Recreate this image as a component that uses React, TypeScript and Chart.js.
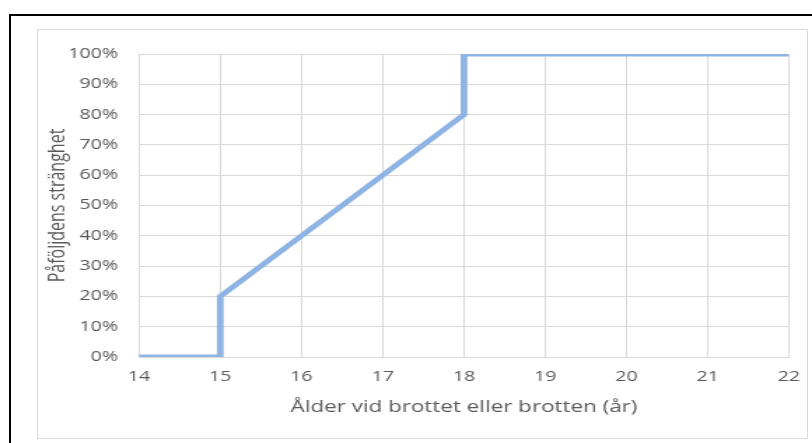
import React, { useEffect, useRef } from "react";
import { Chart, registerables } from "chart.js";

Chart.register(...registerables);

const ages = [14, 15, 15, 18, 18, 22];
const severity = [0, 0, 20, 80, 100, 100];
const xMin = 14;
const xMax = 22;
const yMin = 0;
const yMax = 100;
const xTitle = "Ålder vid brottet eller brotten (år)";
const yTitle = "Påföljdens stränghet";

const STRETCH = 1.4;
const W = 812;
const H = 443;
const CW = Math.round(W / STRETCH);

export default function App() {
  const ref = useRef<HTMLCanvasElement | null>(null);

  useEffect(() => {
    if (!ref.current) return;
    const textColor = "#595959";
    const gridColor = "#d9d9d9";
    const chart = new Chart(ref.current, {
      type: "line",
      data: {
        datasets: [
          {
            data: ages.map((a, i) => ({ x: a, y: severity[i] })),
            borderColor: "#8eb4e3",
            backgroundColor: "#8eb4e3",
            borderWidth: 4.8,
            pointRadius: 0,
            tension: 0,
            fill: false,
          },
        ],
      },
      options: {
        responsive: false,
        animation: false,
        layout: { padding: { left: 0, right: CW - 789 / STRETCH, top: 54, bottom: 0 } },
        plugins: { legend: { display: false }, tooltip: { enabled: false } },
        scales: {
          x: {
            type: "linear",
            min: xMin,
            max: xMax,
            afterFit: (s: any) => {
              s.height = H - 357;
            },
            ticks: {
              stepSize: 1,
              color: textColor,
              font: { family: "'Open Sans'", size: 14 },
              padding: 0,
              maxRotation: 0,
            },
            grid: {
              color: gridColor,
              lineWidth: 1,
              drawTicks: true,
              tickLength: 12,
              tickColor: "rgba(0,0,0,0)",
            },
            border: { color: gridColor, width: 1 },
            title: {
              display: true,
              text: xTitle,
              color: textColor,
              font: { family: "'Open Sans'", size: 16 },
              padding: { top: 0, bottom: 26 },
            },
          },
          y: {
            type: "linear",
            min: yMin,
            max: yMax,
            afterFit: (s: any) => {
              s.width = 139 / STRETCH;
            },
            ticks: {
              stepSize: 10,
              color: textColor,
              font: { family: "'Open Sans'", size: 14 },
              padding: 15,
              callback: (v: any) => `${v}%`,
            },
            grid: { color: gridColor, lineWidth: 1, drawTicks: false },
            border: { color: gridColor, width: 1 },
            title: {
              display: true,
              text: yTitle,
              color: textColor,
              font: { family: "'Open Sans'", size: 16 },
              padding: { top: 32, bottom: 0 },
            },
          },
        },
      },
    });
    return () => chart.destroy();
  }, []);

  return (
    <div
      style={{
        position: "fixed",
        left: 0,
        top: 0,
        width: W,
        height: H,
        overflow: "hidden",
        background: "#fff",
      }}
    >
      <div
        style={{
          position: "absolute",
          left: 9,
          top: 14,
          width: 900,
          height: 600,
          border: "2px solid #000",
        }}
      />
      <div
        style={{
          position: "absolute",
          left: 37,
          top: 29,
          width: 769,
          height: 408,
          border: "1px solid #d9d9d9",
        }}
      />
      <div
        style={{
          position: "absolute",
          left: 0,
          top: 0,
          width: CW,
          height: H,
          transform: `scaleX(${W / CW})`,
          transformOrigin: "0 0",
        }}
      >
        <canvas ref={ref} width={CW} height={H} style={{ display: "block" }} />
      </div>
    </div>
  );
}
